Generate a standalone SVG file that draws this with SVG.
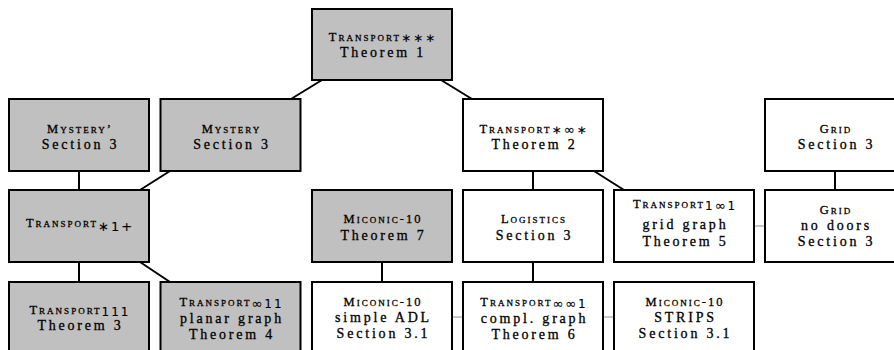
<svg xmlns="http://www.w3.org/2000/svg" width="894" height="350" viewBox="0 0 894 350">
<style>
rect{stroke:#000;stroke-width:2}
.g rect{fill:#c0c0c0}
.w rect{fill:#fff}
text{font-family:"Liberation Serif","DejaVu Serif",serif;font-size:14px;letter-spacing:2.8px;text-anchor:middle;fill:#000;stroke:#000;stroke-width:0.3}
text.sc{font-variant:small-caps;font-size:12.5px;letter-spacing:2px}
.sub{font-variant:normal;font-family:"DejaVu Sans",sans-serif;font-size:12px;letter-spacing:2px;stroke-width:0.1}
.inf{font-family:"Noto Sans","DejaVu Sans",sans-serif;font-size:13px}
#conn line{stroke:#000;stroke-width:2}
#conn line.gr{stroke:#c8c8c8}
</style>
<rect x="0" y="0" width="894" height="350" style="fill:#fff;stroke:none"/>
<g id="conn">
<line x1="322" y1="80" x2="291" y2="99"/>
<line x1="441" y1="80" x2="472" y2="99"/>
<line x1="79" y1="171" x2="79" y2="190"/>
<line x1="170" y1="171" x2="140" y2="190"/>
<line x1="533" y1="171" x2="533" y2="190"/>
<line x1="594" y1="171" x2="624" y2="190"/>
<line x1="835" y1="171" x2="835" y2="190"/>
<line x1="79" y1="262" x2="79" y2="282"/>
<line x1="140" y1="262" x2="170" y2="282"/>
<line x1="382" y1="262" x2="382" y2="282"/>
<line x1="533" y1="262" x2="533" y2="282"/>
<line class="gr" x1="754" y1="226" x2="765" y2="226"/>
<line class="gr" x1="452" y1="317" x2="463" y2="317"/>
<line class="gr" x1="603" y1="317" x2="614" y2="317"/>
</g>
<g id="transport-sss" class="g"><rect x="312" y="9" width="140" height="71"/>
<text class="sc" x="383" y="40.5">Transport<tspan class="sub" dy="1.5">∗∗∗</tspan></text>
<text x="383" y="56.5">Theorem 1</text></g>
<g id="mystery-prime" class="g"><rect x="9" y="99" width="140" height="72"/>
<text class="sc" x="80" y="132.5">Mystery’</text>
<text x="80.5" y="149">Section 3</text></g>
<g id="mystery" class="g"><rect x="160.5" y="99" width="140" height="72"/>
<text class="sc" x="231.5" y="132.5">Mystery</text>
<text x="232" y="149">Section 3</text></g>
<g id="transport-sis" class="w"><rect x="463" y="99" width="140" height="72"/>
<text class="sc" x="534" y="132.5">Transport<tspan class="sub" dy="1.5">∗<tspan class="inf">∞</tspan>∗</tspan></text>
<text x="534.5" y="149">Theorem 2</text></g>
<g id="grid" class="w"><rect x="765" y="99" width="140" height="72"/>
<text class="sc" x="836" y="132.5">Grid</text>
<text x="836.5" y="149">Section 3</text></g>
<g id="transport-s1p" class="g"><rect x="9" y="190" width="140" height="72"/>
<text class="sc" x="80" y="226.5">Transport<tspan class="sub" dy="4" style="font-size:13px">∗1+</tspan></text></g>
<g id="miconic-t7" class="g"><rect x="312" y="190" width="140" height="72"/>
<text class="sc" x="383" y="223">Miconic-10</text>
<text x="383.5" y="239.5">Theorem 7</text></g>
<g id="logistics" class="w"><rect x="463" y="190" width="140" height="72"/>
<text class="sc" x="534" y="223">Logistics</text>
<text x="534.5" y="239.5">Section 3</text></g>
<g id="transport-1i1" class="w"><rect x="614" y="190" width="140" height="72"/>
<text class="sc" x="685" y="208">Transport<tspan class="sub" dy="1.5">1<tspan class="inf">∞</tspan>1</tspan></text>
<text x="685.5" y="229">grid graph</text>
<text x="685.5" y="245.5">Theorem 5</text></g>
<g id="grid-nodoors" class="w"><rect x="765" y="190" width="140" height="72"/>
<text class="sc" x="836" y="214">Grid</text>
<text x="836.5" y="229.5">no doors</text>
<text x="836.5" y="245.5">Section 3</text></g>
<g id="transport-111" class="g"><rect x="9" y="282" width="140" height="72"/>
<text class="sc" x="80" y="314">Transport<tspan class="sub" dy="1.5">111</tspan></text>
<text x="80.5" y="330">Theorem 3</text></g>
<g id="transport-i11" class="g"><rect x="160.5" y="282" width="140" height="72"/>
<text class="sc" x="231.5" y="306">Transport<tspan class="sub" dy="1.5"><tspan class="inf">∞</tspan>11</tspan></text>
<text x="232" y="323">planar graph</text>
<text x="232" y="339">Theorem 4</text></g>
<g id="miconic-adl" class="w"><rect x="312" y="282" width="140" height="72"/>
<text class="sc" x="383" y="306">Miconic-10</text>
<text x="383.5" y="322">simple ADL</text>
<text x="383.5" y="338">Section 3.1</text></g>
<g id="transport-ii1" class="w"><rect x="463" y="282" width="140" height="72"/>
<text class="sc" x="534" y="306">Transport<tspan class="sub" dy="1.5"><tspan class="inf">∞∞</tspan>1</tspan></text>
<text x="534.5" y="323">compl. graph</text>
<text x="534.5" y="339">Theorem 6</text></g>
<g id="miconic-strips" class="w"><rect x="614" y="282" width="140" height="72"/>
<text class="sc" x="685" y="306">Miconic-10</text>
<text x="685.5" y="322">STRIPS</text>
<text x="685.5" y="338">Section 3.1</text></g>
</svg>
